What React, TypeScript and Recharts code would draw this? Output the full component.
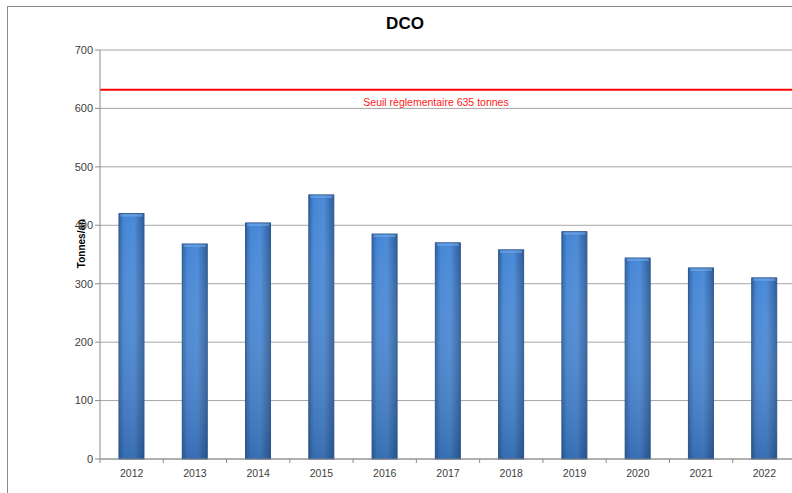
import { BarChart, Bar, XAxis, YAxis, CartesianGrid, ReferenceLine } from 'recharts'

const years = ['2012', '2013', '2014', '2015', '2016', '2017', '2018', '2019', '2020', '2021', '2022']
const tonnes = [420, 368, 404, 452, 385, 370, 358, 389, 344, 327, 310]
const yTicks = [0, 100, 200, 300, 400, 500, 600, 700]
const threshold = 632
const thresholdLabel = 'Seuil règlementaire 635 tonnes'

const data = years.map((year, i) => ({ year, value: tonnes[i] }))

const W = 800
const H = 493
const M = { top: 50, right: 4, bottom: 14, left: 60 }
const band = (W - M.left - 40 - M.right) / years.length

const XTick = (props: any) => {
  const { x, y, payload, index } = props
  return (
    <g>
      <line x1={x - band / 2} x2={x - band / 2} y1={y - 8} y2={y - 4} stroke="#8c8c8c" />
      {index === years.length - 1 && (
        <line x1={x + band / 2} x2={x + band / 2} y1={y - 8} y2={y - 4} stroke="#8c8c8c" />
      )}
      <text x={x} y={y + 10} textAnchor="middle" fontSize={10.5} fill="#404040" fontFamily="Liberation Sans, Arial">
        {payload.value}
      </text>
    </g>
  )
}

// column with side shading, darker towards the bottom and a light top cap
const renderColumn = (props: any) => {
  const x = Number(props.x)
  const y = Number(props.y)
  const width = Math.abs(Number(props.width))
  const height = Math.abs(Number(props.height))
  return (
    <g>
      <rect x={x} y={y} width={width} height={height} fill="url(#barFill)" stroke="#2a558e" strokeWidth={1} />
      <rect x={x} y={y} width={width} height={height} fill="url(#barShade)" />
      <rect x={x + 1.5} y={y + 0.5} width={Math.max(width - 3, 0)} height={2.5} fill="#78aae6" opacity={0.6} />
    </g>
  )
}

const App = () => {
  return (
    <div style={{ position: 'fixed', left: 0, top: 0, width: 792, height: 493, overflow: 'hidden', background: '#fff' }}>
      <div
        style={{
          position: 'absolute',
          left: 7,
          top: 6,
          width: 820,
          height: 520,
          border: '1px solid #8c8c8c',
        }}
      />
      <div
        style={{
          position: 'absolute',
          left: 355,
          width: 100,
          top: 14,
          textAlign: 'center',
          fontFamily: 'Liberation Sans, Arial',
          fontWeight: 'bold',
          fontSize: 17,
          color: '#000',
        }}
      >
        DCO
      </div>
      <div style={{ position: 'absolute', left: 0, top: 0 }}>
        <BarChart width={W} height={H} data={data} margin={M} barCategoryGap="30%">
          <defs>
            <linearGradient id="barFill" x1="0" y1="0" x2="1" y2="0">
              <stop offset="0%" stopColor="#30609d" />
              <stop offset="20%" stopColor="#4485d5" />
              <stop offset="60%" stopColor="#4a8ad8" />
              <stop offset="100%" stopColor="#2d5c97" />
            </linearGradient>
            <linearGradient id="barShade" x1="0" y1="0" x2="0" y2="1">
              <stop offset="0%" stopColor="#ffffff" stopOpacity={0} />
              <stop offset="100%" stopColor="#1a3f70" stopOpacity={0.35} />
            </linearGradient>
          </defs>
          <CartesianGrid vertical={false} stroke="#a6a6a6" />
          <XAxis
            dataKey="year"
            height={20}
            stroke="#8c8c8c"
            tickLine={false}
            interval={0}
            tick={<XTick />}
          />
          <YAxis
            width={40}
            domain={[0, 700]}
            ticks={yTicks}
            stroke="#8c8c8c"
            tickSize={5}
            tick={{ fill: '#404040', fontSize: 11, fontFamily: 'Liberation Sans, Arial' }}
            label={{
              content: (p: any) => (
                <text
                  x={p.viewBox.x + 21}
                  y={p.viewBox.y + p.viewBox.height / 2 - 11}
                  transform={`rotate(-90 ${p.viewBox.x + 21} ${p.viewBox.y + p.viewBox.height / 2 - 11})`}
                  textAnchor="middle"
                  dominantBaseline="central"
                  fontSize={10}
                  fontWeight="bold"
                  fill="#000"
                  fontFamily="Liberation Sans, Arial"
                >
                  Tonnes/an
                </text>
              ),
            }}
          />
          <Bar dataKey="value" fill="#4486d6" shape={renderColumn} isAnimationActive={false} />
          <ReferenceLine
            y={threshold}
            stroke="#ff0000"
            strokeWidth={2}
            label={{
              content: (p: any) => (
                <text
                  x={p.viewBox.x + p.viewBox.width / 2 - 12}
                  y={p.viewBox.y + 16}
                  textAnchor="middle"
                  fontSize={10.5}
                  fill="#ff2020"
                  fontFamily="Liberation Sans, Arial"
                >
                  {thresholdLabel}
                </text>
              ),
            }}
          />
        </BarChart>
      </div>
    </div>
  )
}

export default App
